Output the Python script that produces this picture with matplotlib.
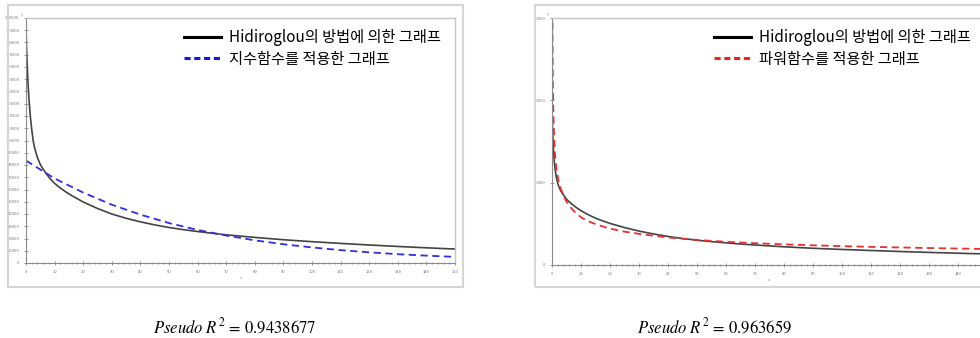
import matplotlib.pyplot as plt
from matplotlib.lines import Line2D
from matplotlib.patches import Rectangle
from matplotlib.ticker import MultipleLocator, FixedFormatter, FixedLocator

plt.rcParams['font.family'] = ['Noto Sans CJK KR', 'DejaVu Sans']
plt.rcParams['mathtext.fontset'] = 'stix'

# values
x_hid = [0, 0.25, 0.5, 0.75, 1, 1.5, 2, 2.5, 3, 4, 5, 6, 7, 8, 9, 10, 12, 14,
         16, 18, 20, 25, 30, 35, 40, 45, 50, 55, 60, 65, 70, 80, 90, 100, 110,
         120, 130, 140, 150]
hid_left = [190000, 172000, 157000, 145000, 135000, 120000, 109000, 100000,
            94000, 86000, 80500, 76500, 73200, 70100, 67400, 65000, 61200,
            57900, 55000, 52400, 49800, 44500, 40000, 36500, 33600, 31100,
            29000, 27200, 25700, 24300, 23000, 20900, 19000, 17400, 16000,
            14700, 13500, 12400, 11400]
hid_right = [19000, 16000, 14000, 12700, 11800, 10600, 9900, 9400, 9000, 8500,
             8000, 7650, 7350, 7080, 6830, 6600, 6200, 5850, 5550, 5300, 5050,
             4550, 4120, 3770, 3470, 3220, 3010, 2840, 2690, 2550, 2430, 2210,
             2030, 1890, 1760, 1640, 1530, 1430, 1340]

x_exp = [0, 10, 20, 30, 40, 50, 60, 70, 80, 90, 100, 110, 120, 130, 140, 150]
exp_fit = [83600, 69000, 57500, 47600, 39500, 32600, 27000, 22400, 18500,
           15300, 12700, 10500, 8700, 7200, 6000, 5000]

x_pow = [0.1, 0.2, 0.3, 0.5, 0.75, 1, 1.5, 2, 2.5, 3, 4, 5, 6, 7, 8, 10, 12,
         14, 16, 18, 20, 25, 30, 35, 40, 45, 50, 60, 70, 80, 90, 100, 110, 120,
         130, 140, 150]
pow_fit = [35000, 27000, 22000, 18000, 15500, 13600, 11800, 10700, 9900, 9300,
           8400, 7700, 7200, 6750, 6400, 5800, 5400, 5100, 4850, 4620, 4420,
           4050, 3780, 3550, 3350, 3190, 3050, 2820, 2650, 2510, 2390, 2290,
           2200, 2130, 2060, 2000, 1940]

labels_left = ['Hidiroglou의 방법에 의한 그래프', '지수함수를 적용한 그래프']
labels_right = ['Hidiroglou의 방법에 의한 그래프', '파워함수를 적용한 그래프']
r2_left = '0.9438677'
r2_right = '0.963659'

W, H = 980, 338
fig = plt.figure(figsize=(W / 100, H / 100), dpi=100)


def px_axes(x0, y0, x1, y1):
    return fig.add_axes([x0 / W, 1 - y1 / H, (x1 - x0) / W, (y1 - y0) / H])


# light grey frames around both panels
for fx0, fx1 in [(8, 463), (535, 1000)]:
    fig.patches.append(Rectangle((fx0 / W, 1 - 287 / H), (fx1 - fx0) / W,
                                 282 / H, transform=fig.transFigure,
                                 fill=False, edgecolor='#d6d6d6', lw=1.5))


def style(ax, ymax, ystep, last_label=True):
    ax.set_xlim(0, 150)
    ax.set_ylim(0, ymax)
    xt = list(range(0, 151, 10))
    ax.xaxis.set_major_locator(FixedLocator(xt))
    xl = [str(v) for v in xt]
    if not last_label:
        xl[-1] = ''
    ax.xaxis.set_major_formatter(FixedFormatter(xl))
    ax.xaxis.set_minor_locator(MultipleLocator(2))
    ax.yaxis.set_major_locator(MultipleLocator(ystep))
    ax.tick_params(which='both', direction='inout', labelsize=3,
                   colors='#888888', labelcolor='#777777', width=0.6)
    ax.tick_params(which='major', length=2.5)
    ax.tick_params(which='minor', length=1.5)
    for s in ['left', 'bottom']:
        ax.spines[s].set_color('#8a8a8a')
        ax.spines[s].set_linewidth(0.8)
    for s in ['top', 'right']:
        ax.spines[s].set_color('#c4c4c4')
        ax.spines[s].set_linewidth(1.0)
    ax.set_xlabel('x', fontsize=3, color='#888888', labelpad=2)


def add_legend(handles, labels, x0):
    fig.legend(handles, labels, loc='upper left',
               bbox_to_anchor=(x0 / W, 1 - 29 / H), frameon=False,
               fontsize=11, borderpad=0, borderaxespad=0, handlelength=2.4,
               handletextpad=0.55, labelspacing=0.3)


# left panel
ax1 = px_axes(26, 18, 455, 263)
style(ax1, 200000, 10000)
ax1.plot(x_hid, hid_left, color='#444444', lw=1.2)
ax1.plot(x_exp, exp_fit, color='#3030e0', lw=1.3, ls=(0, (4, 2.5)))
ax1.text(-1, 201000, 'y', fontsize=3, color='#888888', ha='right', va='bottom')
add_legend([Line2D([], [], color='black', lw=2.2),
            Line2D([], [], color='#1515e0', lw=2.2, ls=(0, (2, 1.2)))],
           labels_left, 184)

# right panel
ax2 = px_axes(552, 18, 987, 265)
style(ax2, 30000, 10000, last_label=False)
ax2.plot(x_hid, hid_right, color='#444444', lw=1.2)
ax2.plot(x_pow, pow_fit, color='#e83030', lw=1.3, ls=(0, (4, 2.5)))
ax2.text(-1, 30200, 'y', fontsize=3, color='#888888', ha='right', va='bottom')
add_legend([Line2D([], [], color='black', lw=2.2),
            Line2D([], [], color='#ee2020', lw=2.2, ls=(0, (2, 1.2)))],
           labels_right, 714)

# pseudo R^2 captions
fig.text(235 / W, 1 - 327 / H, r'$\mathit{Pseudo}\ R^2$ = ' + r2_left,
         fontsize=12, family='STIXGeneral', ha='center', va='center')
fig.text(715 / W, 1 - 327 / H, r'$\mathit{Pseudo}\ R^2$ = ' + r2_right,
         fontsize=12, family='STIXGeneral', ha='center', va='center')

fig.savefig('out.png', dpi=100)
